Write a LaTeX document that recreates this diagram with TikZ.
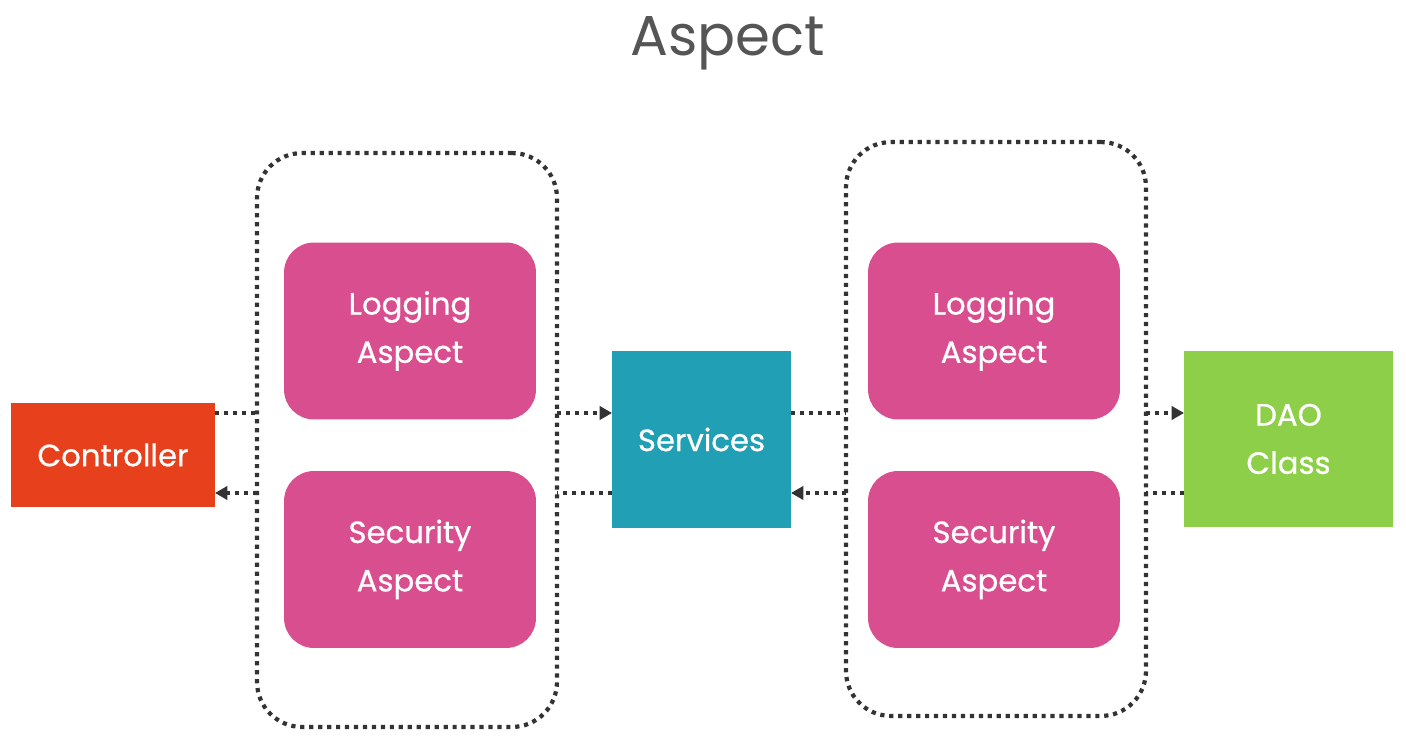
\documentclass[tikz,border=0pt]{standalone}
\usepackage{fontspec}
\setmainfont{Poppins}
\newfontfamily\medfont{Poppins}[FakeBold=0.7]
\usetikzlibrary{arrows.meta}
\definecolor{pinkc}{HTML}{D94E8E}
\definecolor{redc}{HTML}{E6401C}
\definecolor{tealc}{HTML}{21A0B5}
\definecolor{greenc}{HTML}{8DCF48}
\definecolor{dotc}{HTML}{333333}
\definecolor{titlec}{HTML}{555555}
\tikzset{
  px/.style={x=0.02cm,y=-0.02cm},
  solidbox/.style={inner sep=0pt, outer sep=0pt, text=white, align=center,
    font=\medfont\fontsize{17.5}{27.5}\selectfont},
  pinkbox/.style={solidbox, fill=pinkc, rounded corners=0.6cm,
    minimum width=5.04cm, minimum height=3.54cm},
  group/.style={draw=dotc, line width=2.4pt, dash pattern=on 2.4pt off 2.7pt,
    rounded corners=0.9cm, minimum width=6cm, minimum height=11.48cm,
    inner sep=0pt, outer sep=0pt},
  conn/.style={draw=dotc, line width=2.4pt, dash pattern=on 2.4pt off 2.7pt},
  connarrow/.style={conn, -{Triangle[length=7pt,width=7.5pt]}},
}
\begin{document}
\begin{tikzpicture}[px]
\useasboundingbox (0,0) rectangle (1406,736);
\node[font=\fontsize{32}{38}\selectfont, text=titlec] (title) at (728,43) {Aspect};
\node[group] (lgrp) at (407,440) {};
\node[group] (rgrp) at (996,429) {};
\node[pinkbox] (llog) at (410,331) {Logging\\Aspect};
\node[pinkbox] (lsec) at (410,559.5) {Security\\Aspect};
\node[pinkbox] (rlog) at (994,331) {Logging\\Aspect};
\node[pinkbox] (rsec) at (994,559.5) {Security\\Aspect};
\node[solidbox, fill=redc, minimum width=4.08cm, minimum height=2.08cm] (ctrl) at (113,455) {Controller};
\node[solidbox, fill=tealc, minimum width=3.58cm, minimum height=3.54cm] (svc) at (701.5,439.5) {Services};
\node[solidbox, fill=greenc, minimum width=4.18cm, minimum height=3.52cm] (dao) at (1288.5,439) {DAO\\Class};
\coordinate (up) at (0,413);
\coordinate (lo) at (0,493);
\draw[conn] (ctrl.east |- up) -- (lgrp.west |- up);
\draw[connarrow] (lgrp.east |- up) -- (svc.west |- up);
\draw[conn] (svc.east |- up) -- (rgrp.west |- up);
\draw[connarrow] (rgrp.east |- up) -- (dao.west |- up);
\draw[conn] (dao.west |- lo) -- (rgrp.east |- lo);
\draw[connarrow] (rgrp.west |- lo) -- (svc.east |- lo);
\draw[conn] (svc.west |- lo) -- (lgrp.east |- lo);
\draw[connarrow] (lgrp.west |- lo) -- (ctrl.east |- lo);
\end{tikzpicture}
\end{document}
